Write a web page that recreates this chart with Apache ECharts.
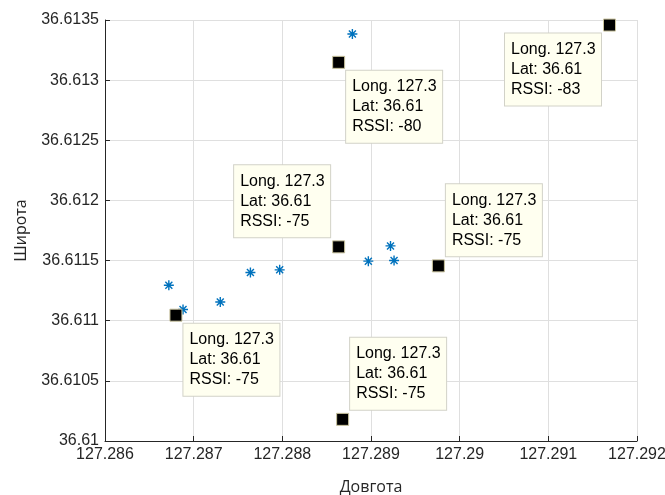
<!DOCTYPE html>
<html>
<head>
<meta charset="utf-8">
<script src="https://cdn.jsdelivr.net/npm/echarts@6/dist/echarts.min.js"></script>
<style>
  html, body { margin: 0; padding: 0; background: #fff; }
  #chart { width: 665px; height: 495px; }
</style>
</head>
<body>
<div id="chart"></div>
<script>
// measured route points (blue stars)
var routeLon = [127.28672, 127.28688, 127.28730, 127.28764, 127.28797, 127.28879, 127.28897, 127.28922, 127.28926];
var routeLat = [36.611295, 36.611093, 36.611156, 36.611401, 36.611423, 36.613384, 36.611495, 36.611622, 36.611500];

// base stations with datatips (black squares)
var tipLon = [127.288635, 127.29169, 127.288635, 127.28680, 127.28976, 127.28868];
var tipLat = [36.613148, 36.613458, 36.611614, 36.611046, 36.611456, 36.610180];
var tipRssi = [-80, -83, -75, -75, -75, -75];
// where the tip box sits relative to the marker
var tipSide = ['dr', 'dl', 'ul', 'dr', 'ur', 'ur'];

var xTicks = { min: 127.286, max: 127.292, interval: 0.001 };
var yTicks = { min: 36.61, max: 36.6135, interval: 0.0005 };

var axisColor = '#262626';
var gridColor = '#dfdfdf';
var tickFont = '"Liberation Sans", Arial, sans-serif';

function tipPos(side) {
  var dx = side[1] === 'r' ? 14 : -98;
  var dy = side[0] === 'd' ? 15 : -75;
  return [dx, dy];
}

var routeData = routeLon.map(function (x, i) { return [x, routeLat[i]]; });
var tipData = tipLon.map(function (x, i) {
  return {
    value: [x, tipLat[i]],
    rssi: tipRssi[i],
    label: { position: tipPos(tipSide[i]) }
  };
});

var chart = echarts.init(document.getElementById('chart'));
chart.setOption({
  animation: false,
  grid: { left: 105, right: 28, top: 20, bottom: 54, outerBoundsMode: 'none', containLabel: false },
  xAxis: {
    type: 'value',
    min: xTicks.min, max: xTicks.max, interval: xTicks.interval,
    name: 'Довгота', nameLocation: 'middle', nameGap: 38,
    nameTextStyle: { fontFamily: 'Open Sans', fontSize: 16, color: axisColor },
    axisLine: { onZero: false, lineStyle: { color: axisColor } },
    axisTick: { inside: true, length: 5, lineStyle: { color: axisColor } },
    axisLabel: { color: axisColor, fontFamily: tickFont, fontSize: 16, margin: 6 },
    splitLine: { show: true, lineStyle: { color: gridColor } }
  },
  yAxis: {
    type: 'value',
    min: yTicks.min, max: yTicks.max, interval: yTicks.interval,
    name: 'Широта', nameLocation: 'middle', nameGap: 76,
    nameTextStyle: { fontFamily: 'Open Sans', fontSize: 16, color: axisColor },
    axisLine: { onZero: false, lineStyle: { color: axisColor } },
    axisTick: { inside: true, length: 5, lineStyle: { color: axisColor } },
    axisLabel: { color: axisColor, fontFamily: tickFont, fontSize: 16, margin: 6 },
    splitLine: { show: true, lineStyle: { color: gridColor } }
  },
  series: [
    {
      type: 'scatter',
      data: routeData,
      symbol: 'path://M0,5 L10,5 M5,0 L5,10 M1.5,1.5 L8.5,8.5 M8.5,1.5 L1.5,8.5',
      symbolSize: 10,
      itemStyle: { color: 'transparent', borderColor: '#0072BD', borderWidth: 1.4, opacity: 1 },
      z: 2
    },
    {
      type: 'scatter',
      data: tipData,
      symbol: 'rect',
      symbolSize: 12,
      itemStyle: { color: '#000', borderColor: '#c9c39d', borderWidth: 1, opacity: 1 },
      label: {
        show: true,
        formatter: function (p) {
          return 'Long. ' + p.value[0].toFixed(1) + '\nLat: ' + p.value[1].toFixed(2) +
            '\nRSSI: ' + p.data.rssi;
        },
        fontFamily: tickFont,
        fontSize: 16,
        lineHeight: 20,
        color: '#000',
        backgroundColor: '#fffff0',
        borderColor: '#d2d2c8',
        borderWidth: 1,
        padding: [6, 6, 6, 6],
        width: 84
      },
      z: 3
    }
  ]
});
</script>
</body>
</html>
